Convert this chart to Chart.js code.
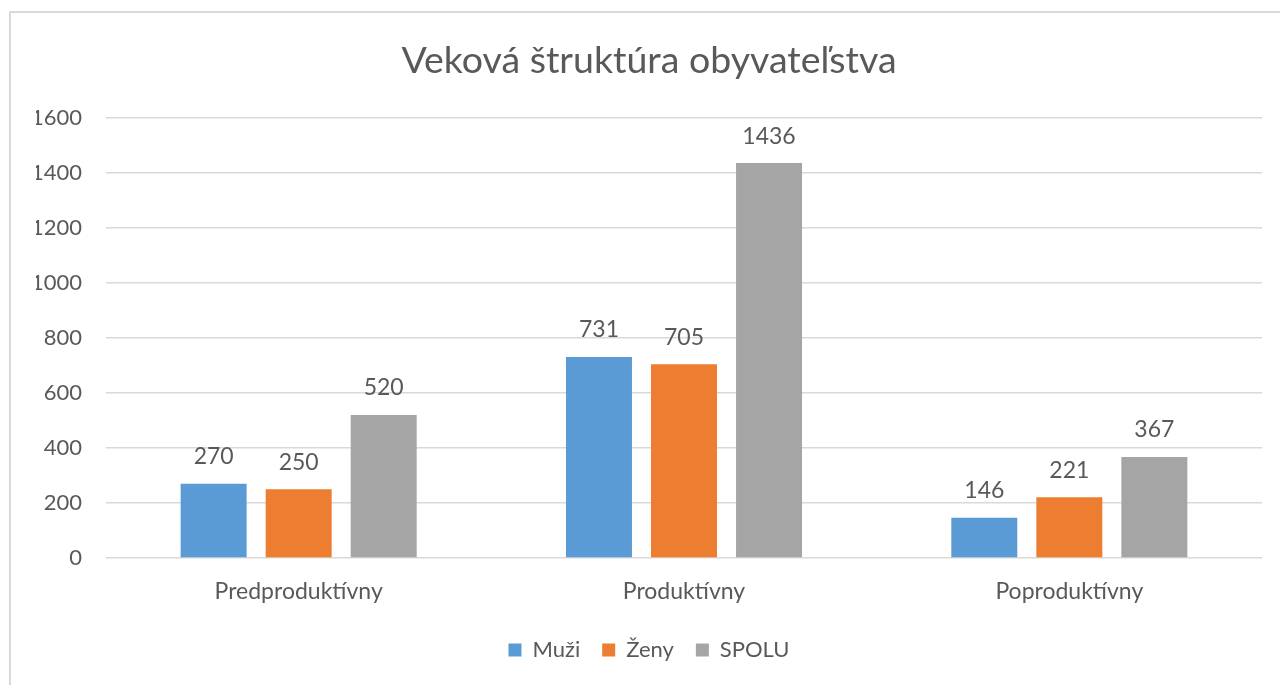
<!DOCTYPE html>
<html lang="sk">
<head>
<meta charset="utf-8">
<title>Veková štruktúra obyvateľstva</title>
<script src="https://cdn.jsdelivr.net/npm/chart.js@4/dist/chart.umd.min.js"></script>
<style>
  html, body { margin: 0; padding: 0; background: #ffffff; overflow: hidden; }
  .marco {
    position: absolute; left: 9px; top: 11px; width: 1300px; height: 700px;
    border: 2px solid #d9d9d9; box-sizing: border-box;
  }
  #grafEdad { position: absolute; left: 0; top: 0; }
</style>
</head>
<body>
<div class="marco"></div>
<canvas id="grafEdad" width="1280" height="685"></canvas>

<script>
// Datos del gráfico
const categorias = ['Predproduktívny', 'Produktívny', 'Poproduktívny'];
const muzi = [270, 731, 146];
const zeny = [250, 705, 221];
const spolu = [520, 1436, 367];
const ejeY = { min: 0, max: 1600, paso: 200 };

const gris = '#595959';
const fuente = 'Lato, "Open Sans", sans-serif';

// Etiquetas de valor encima de cada barra
const etiquetasPlugin = {
  id: 'etiquetas',
  afterDatasetsDraw(chart) {
    const ctx = chart.ctx;
    ctx.save();
    ctx.font = '23px ' + fuente;
    ctx.fillStyle = gris;
    ctx.textAlign = 'center';
    ctx.textBaseline = 'middle';
    chart.data.datasets.forEach((ds, i) => {
      chart.getDatasetMeta(i).data.forEach((bar, j) => {
        ctx.fillText(ds.data[j], bar.x, bar.y - 27);
      });
    });
    ctx.restore();
  }
};

function renderGrafico() {
  const ctx = document.getElementById('grafEdad').getContext('2d');

  new Chart(ctx, {
    type: 'bar',
    data: {
      labels: categorias,
      datasets: [
        { label: 'Muži', data: muzi, backgroundColor: '#5b9bd5' },
        { label: 'Ženy', data: zeny, backgroundColor: '#ed7d31' },
        { label: 'SPOLU', data: spolu, backgroundColor: '#a5a5a5' }
      ]
    },
    options: {
      responsive: false,
      animation: false,
      devicePixelRatio: 1,
      categoryPercentage: 0.662,
      barPercentage: 0.776,
      layout: { padding: { left: 36, right: 18, top: 0, bottom: 14 } },
      plugins: {
        title: {
          display: true,
          text: 'Veková štruktúra obyvateľstva',
          color: gris,
          font: { family: fuente, size: 37.5, weight: '400' },
          padding: { top: 38, bottom: 35 }
        },
        legend: {
          position: 'bottom',
          labels: {
            color: gris,
            font: { family: fuente, size: 22 },
            boxWidth: 13,
            boxHeight: 13,
            padding: 22
          }
        },
        tooltip: { enabled: false }
      },
      scales: {
        x: {
          afterFit: (scale) => { scale.height = 59; },
          grid: { display: false, drawTicks: false },
          border: { display: false },
          ticks: { color: gris, font: { family: fuente, size: 23 }, padding: 20 }
        },
        y: {
          min: ejeY.min,
          max: ejeY.max,
          afterFit: (scale) => { scale.width = 70; },
          grid: { color: '#d9d9d9', lineWidth: 1.5, drawTicks: false },
          border: { display: false },
          ticks: {
            stepSize: ejeY.paso,
            color: gris,
            font: { family: fuente, size: 22 },
            padding: 24,
            callback: (valor) => String(valor)
          }
        }
      }
    },
    plugins: [etiquetasPlugin]
  });
}

document.addEventListener('DOMContentLoaded', renderGrafico);
</script>
</body>
</html>
